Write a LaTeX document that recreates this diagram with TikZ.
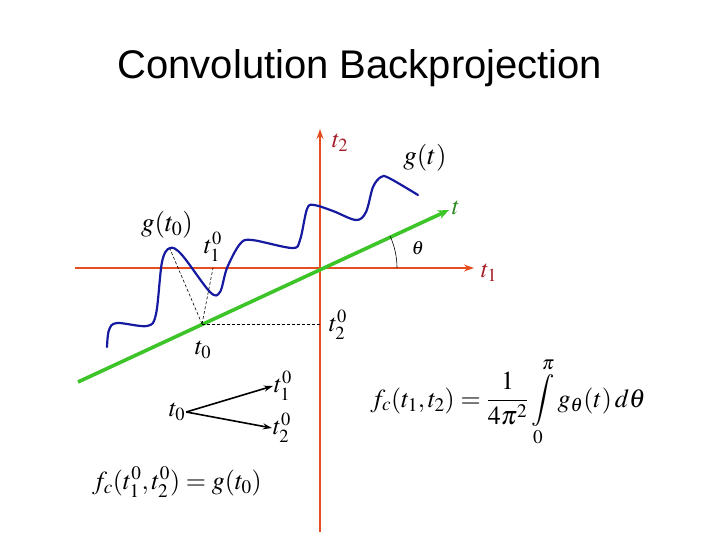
\documentclass[tikz,border=0pt]{standalone}
\usepackage{amsmath}
\usepackage{mathptmx}
\usepackage{fontspec}
\setmainfont{Liberation Serif}
\newfontfamily\titlefont{Liberation Sans}
\usetikzlibrary{arrows.meta}
\definecolor{axisred}{RGB}{228,78,32}
\definecolor{labelred}{RGB}{165,30,40}
\definecolor{linegreen}{RGB}{60,196,40}
\definecolor{curveblue}{RGB}{22,26,160}

\begin{document}
\begin{tikzpicture}[x=1pt, y=-1pt,
  axis/.style={draw=axisred, line width=1.6pt, -{Stealth[length=10pt,width=7pt]}},
  lbl/.style={font=\fontsize{25}{28}\selectfont, inner sep=1pt},
  guide/.style={draw=black, line width=0.6pt, dash pattern=on 3pt off 2pt},
  arrow/.style={-{Stealth[length=9pt,width=6pt]}, line width=1.6pt}]
\useasboundingbox (0,0) rectangle (720,540);
\node[font=\titlefont\fontsize{40}{46}\selectfont] (title) at (360,68) {Convolution Backprojection};
% axes
\coordinate (O) at (320,268);
\coordinate (t1end) at (474,268);
\coordinate (t2end) at (320,129);
\draw[axis] (75,268) -- (t1end);
\draw[axis] (320,532) -- (t2end);
\node[lbl, text=labelred] (t2lab) at (340,143) {$t_2$};
\node[lbl, text=labelred] (t1lab) at (489,273) {$t_1$};
% projection direction
\coordinate (tend) at (449,210);
\draw[linegreen, line width=3.6pt, -{Stealth[length=11pt,width=9pt]}] (78,382) -- (tend);
\node[lbl, text=linegreen!70!black] (tlab) at (456,208) {$t$};
\draw[line width=0.6pt] (397,268) arc[start angle=0, end angle=-24.4, radius=77];
\node[font=\fontsize{19}{21}\selectfont] (theta) at (418,248) {$\theta$};
% projection g(t)
\draw[curveblue, line width=2.2pt, line cap=round] plot[smooth, tension=0.55] coordinates {(107,347) (109,330) (117,323) (147,326) (156,314) (162,262) (170,248) (182,255) (210,292) (220,292) (227,268) (240,244) (252,240) (292,248) (300,240) (307,209) (314,205) (333,211) (356,220) (366,212) (373,187) (381,177) (389,178) (418,195)};
\node[font=\fontsize{27}{30}\selectfont] (glab) at (425,158) {$g(t)$};
\node[font=\fontsize{27}{30}\selectfont] (gtlab) at (167,225) {$g(t_0)$};
% the point t0
\coordinate (P) at (202,324);
\coordinate (peak) at (170,249);
\coordinate (foot1) at (213,268);
\coordinate (foot2) at (320,324);
\draw[guide] (P) -- (peak);
\draw[guide] (P) -- (foot1);
\draw[guide] (P) -- (foot2);
\node[lbl] (t10) at (213,247) {$t_1^0$};
\node[lbl] (t20) at (338,325) {$t_2^0$};
\node[lbl] (t0) at (203,350) {$t_0$};
% mapping
\node[lbl] (m0) at (177,412) {$t_0$};
\node[lbl] (m1) at (283,386) {$t_1^0$};
\node[lbl] (m2) at (282,428) {$t_2^0$};
\draw[arrow] (m0.east) -- (m1.west);
\draw[arrow] (m0.east) -- (m2.west);
% formulas
\node[font=\fontsize{26}{30}\selectfont] (fc) at (508,402) {$\displaystyle f_c(t_1,t_2) = \frac{1}{4\pi^2}\int\limits_0^{\pi} g_\theta(t)\,d\theta$};
\node[font=\fontsize{26}{30}\selectfont] (fc0) at (177,482) {$f_c(t_1^0,t_2^0) = g(t_0)$};
\end{tikzpicture}
\end{document}
